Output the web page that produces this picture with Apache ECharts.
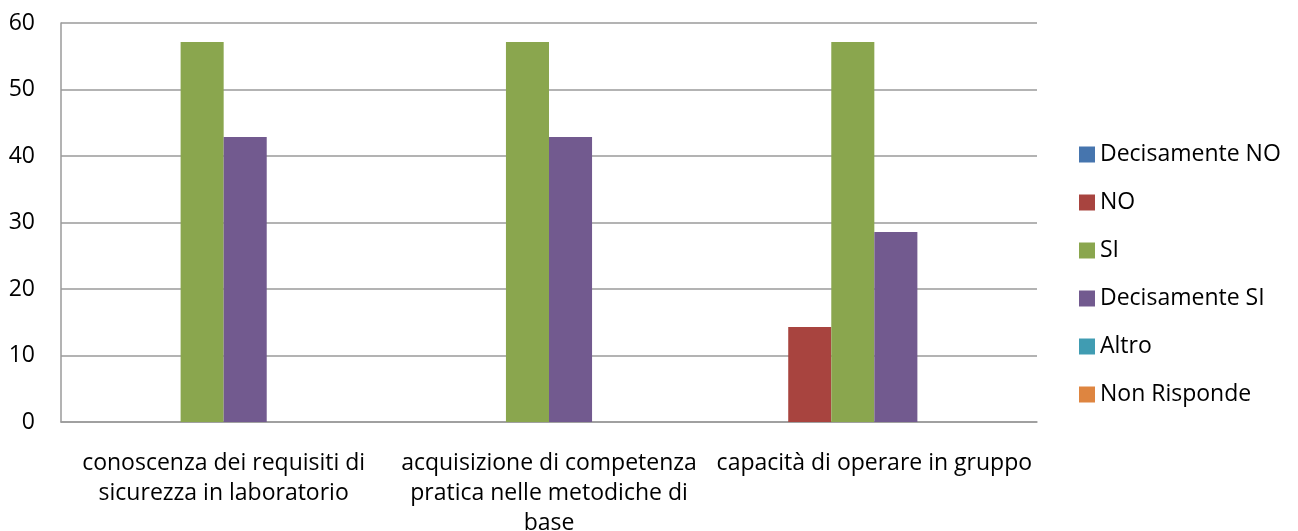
<!DOCTYPE html>
<html>
<head>
<meta charset="utf-8">
<script src="https://cdn.jsdelivr.net/npm/echarts@6/dist/echarts.min.js"></script>
<style>html,body{margin:0;padding:0;background:#fff}#c{width:1298px;height:531px}</style>
</head>
<body>
<div id="c"></div>
<script>
const categories = [
  'conoscenza dei requisiti di\nsicurezza in laboratorio',
  'acquisizione di competenza\npratica nelle metodiche di\nbase',
  'capacità di operare in gruppo'
];
const seriesNames = ['Decisamente NO', 'NO', 'SI', 'Decisamente SI', 'Altro', 'Non Risponde'];
const decisamenteNO = [0, 0, 0];
const no = [0, 0, 14.29];
const si = [57.14, 57.14, 57.14];
const decisamenteSI = [42.86, 42.86, 28.57];
const altro = [0, 0, 0];
const nonRisponde = [0, 0, 0];
const yTicks = [0, 10, 20, 30, 40, 50, 60];

const colors = ['#4675AE', '#A8443F', '#8AA64E', '#725A8F', '#409CB2', '#DE8540'];
const values = [decisamenteNO, no, si, decisamenteSI, altro, nonRisponde];
const FONT = 'Open Sans';
const FS = 23;

const chart = echarts.init(document.getElementById('c'));
chart.setOption({
  animation: false,
  textStyle: { fontFamily: FONT },
  grid: { left: 61, right: 261, top: 23, bottom: 109, containLabel: false, outerBoundsMode: 'none' },
  legend: {
    orient: 'vertical',
    left: 1074,
    top: 138,
    padding: 5,
    itemWidth: 16,
    itemHeight: 16,
    itemGap: 25,
    icon: 'rect',
    data: seriesNames,
    textStyle: { fontSize: FS, color: '#000', fontFamily: FONT, lineHeight: 23 }
  },
  xAxis: {
    type: 'category',
    data: categories,
    axisLine: { show: true, lineStyle: { color: '#9a9a9a', width: 1.5 } },
    axisTick: { show: false },
    axisLabel: { fontSize: FS, color: '#000', lineHeight: 30, margin: 26, interval: 0, fontFamily: FONT }
  },
  yAxis: {
    type: 'value',
    min: yTicks[0],
    max: yTicks[yTicks.length - 1],
    interval: 10,
    axisLine: { show: true, lineStyle: { color: '#9a9a9a', width: 1.5 } },
    axisTick: { show: false },
    splitLine: { lineStyle: { color: '#9a9a9a', width: 1.5 } },
    axisLabel: { fontSize: FS, color: '#000', margin: 26, fontFamily: FONT }
  },
  series: seriesNames.map((n, i) => ({
    name: n,
    type: 'bar',
    data: values[i],
    barGap: '0%',
    barCategoryGap: '20.6%',
    itemStyle: { color: colors[i] }
  }))
});
</script>
</body>
</html>
